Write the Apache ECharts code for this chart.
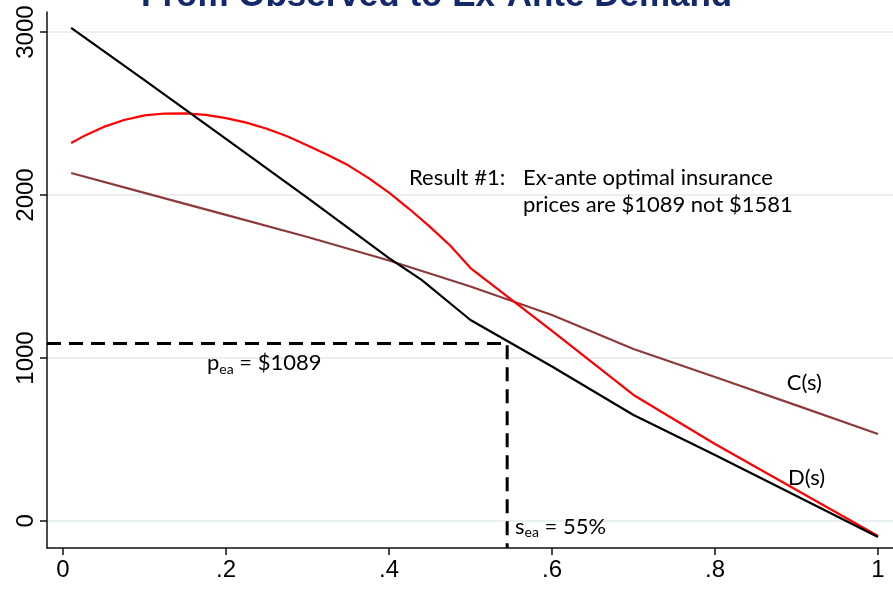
<!DOCTYPE html>
<html>
<head>
<meta charset="utf-8">
<script src="https://cdn.jsdelivr.net/npm/echarts@6/dist/echarts.min.js"></script>
<style>
  html, body { margin: 0; padding: 0; background: #fff; }
  #chart { width: 893px; height: 589px; }
</style>
</head>
<body>
<div id="chart"></div>
<script>
// Share of population insured (s) at which each curve is evaluated
const sD = [0.01, 0.1, 0.2, 0.3, 0.4, 0.44, 0.5, 0.6, 0.7, 0.8, 0.9, 1.0];
// Ex-ante demand D(s)
const demandExAnte = [3025, 2705, 2344, 1982, 1613, 1479, 1233, 948, 650, 405, 153, -98];

const sObs = [0.01, 0.025, 0.05, 0.075, 0.1, 0.125, 0.15, 0.175, 0.2, 0.225, 0.25, 0.275, 0.3,
              0.325, 0.35, 0.375, 0.4, 0.425, 0.45, 0.475, 0.5, 0.6, 0.7, 0.8, 0.9, 1.0];
// Observed demand
const demandObserved = [2319, 2360, 2418, 2460, 2489, 2500, 2501, 2492, 2472, 2444, 2407, 2360, 2304,
                        2246, 2182, 2104, 2014, 1914, 1806, 1690, 1552, 1166, 773, 472, 190, -92];

const sC = [0.01, 0.1, 0.2, 0.3, 0.4, 0.5, 0.6, 0.7, 0.8, 0.9, 1.0];
// Average cost C(s)
const costC = [2135, 2013, 1878, 1742, 1598, 1439, 1264, 1055, 883, 709, 534];

// Ex-ante optimum
const sEa = 0.545;
const pEa = 1089;

const xTicks = [0, 0.2, 0.4, 0.6, 0.8, 1];
const xTickLabels = ['0', '.2', '.4', '.6', '.8', '1'];
const yTicks = [0, 1000, 2000, 3000];

const X_MIN = -0.0196, X_MAX = 1.0184;
const Y_MIN = -166, Y_MAX = 3123;

const zip = (xs, ys) => xs.map((x, i) => [x, ys[i]]);

const noteFont = 'Lato, "Open Sans", sans-serif';
const axisFont = '"Liberation Sans", Arial, sans-serif';
const noteSize = 22;

function note(coord, text, extra) {
  return {
    coord: coord,
    symbol: 'circle',
    symbolSize: 0,
    label: Object.assign({
      show: true,
      position: 'right',
      distance: 0,
      formatter: text,
      color: '#000',
      fontFamily: noteFont,
      fontSize: noteSize
    }, extra || {})
  };
}

const subRich = {
  n: { fontFamily: noteFont, fontSize: noteSize, color: '#000' },
  sub: { fontFamily: noteFont, fontSize: 14, color: '#000', verticalAlign: 'bottom', padding: [12, 0, 0, 0] }
};

const chart = echarts.init(document.getElementById('chart'), null, { renderer: 'canvas' });

chart.setOption({
  animation: false,
  backgroundColor: '#fff',
  title: {
    text: 'From Observed to Ex-Ante Demand',
    left: 136,
    top: -26,
    textStyle: {
      fontFamily: axisFont,
      fontSize: 35,
      fontWeight: 'bold',
      color: '#14296b'
    }
  },
  grid: { left: 47, right: 0, top: 12, bottom: 41, containLabel: false },
  xAxis: {
    type: 'value',
    min: X_MIN,
    max: X_MAX,
    axisLine: { show: true, onZero: false, lineStyle: { color: '#111', width: 1.5 } },
    axisTick: { show: true, length: 7, customValues: xTicks, lineStyle: { color: '#111', width: 1.5 } },
    axisLabel: {
      customValues: xTicks,
      formatter: v => xTickLabels[xTicks.findIndex(t => Math.abs(t - v) < 1e-9)],
      margin: 10,
      fontFamily: axisFont,
      fontSize: 24,
      color: '#000'
    },
    splitLine: { show: false }
  },
  yAxis: {
    type: 'value',
    min: Y_MIN,
    max: Y_MAX,
    axisLine: { show: true, onZero: false, lineStyle: { color: '#111', width: 1.5 } },
    axisTick: { show: true, length: 7, customValues: yTicks, lineStyle: { color: '#111', width: 1.5 } },
    axisLabel: {
      customValues: yTicks,
      formatter: v => String(v),
      rotate: 90,
      margin: 9,
      fontFamily: axisFont,
      fontSize: 24,
      color: '#000'
    },
    splitLine: { show: true, lineStyle: { color: '#e8f0f2', width: 2 } }
  },
  series: [
    {
      name: 'C(s)',
      type: 'line',
      data: zip(sC, costC),
      showSymbol: false,
      lineStyle: { color: '#8c3a3c', width: 2.2 },
      z: 3,
      markPoint: {
        data: [note([0.888, 847], 'C(s)')]
      }
    },
    {
      name: 'D(s)',
      type: 'line',
      data: zip(sD, demandExAnte),
      showSymbol: false,
      lineStyle: { color: '#000', width: 2.2 },
      z: 4,
      markPoint: {
        data: [note([0.8896, 264], 'D(s)')]
      }
    },
    {
      name: 'Observed demand',
      type: 'line',
      data: zip(sObs, demandObserved),
      showSymbol: false,
      lineStyle: { color: '#ff0000', width: 2.2 },
      z: 3
    },
    {
      name: 'Ex-ante optimum',
      type: 'line',
      data: [[X_MIN, pEa], [sEa, pEa], [sEa, Y_MIN]],
      showSymbol: false,
      lineStyle: { color: '#000', width: 3, type: [14, 8] },
      z: 5,
      markPoint: {
        data: [
          note([0.4245, 2104], 'Result #1:'),
          note([0.5644, 2104], 'Ex-ante optimal insurance'),
          note([0.5644, 1939], 'prices are $' + pEa + ' not $1581'),
          note([0.1767, 969], '{n|p}{sub|ea}{n| = $' + pEa + '}', { rich: subRich }),
          note([0.5546, -37], '{n|s}{sub|ea}{n| = ' + Math.round(sEa * 100) + '%}', { rich: subRich })
        ]
      }
    }
  ]
});
</script>
</body>
</html>
